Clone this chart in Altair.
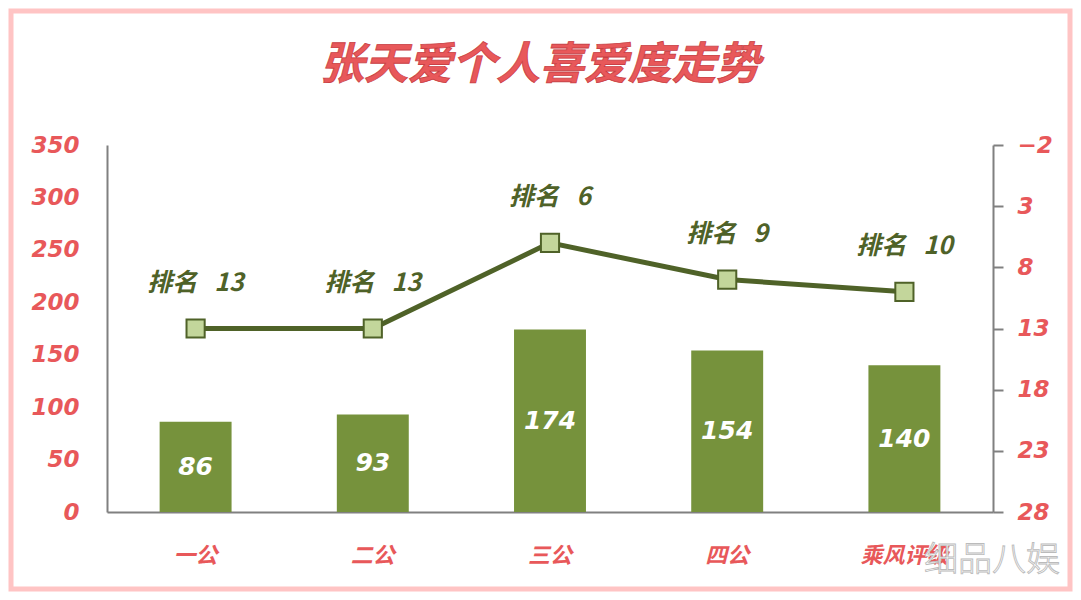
import altair as alt
import pandas as pd

categories = ["一公", "二公", "三公", "四公", "乘风评级"]
heat = [86, 93, 174, 154, 140]
ranks = [13, 13, 6, 9, 10]
left_ticks = [0, 50, 100, 150, 200, 250, 300, 350]
right_ticks = [-2, 3, 8, 13, 18, 23, 28]
title_text = "张天爱个人喜爱度走势"
watermark = "细品八娱"

df = pd.DataFrame({
    "cat": categories,
    "heat": heat,
    "mid": [v / 2 for v in heat],
    "rank": ranks,
    "rlabel": ["排名\u00a0\u00a0\u00a0" + str(r) for r in ranks],
})

RED = "#E8585A"
GRAY = "#808080"
DARK = "#4F6228"
BAR = "#76923C"
LIGHT = "#C3D69B"
FONT = "Noto Sans CJK SC"
NUMFONT = "DejaVu Sans"

W, H = 886, 367

x_enc = alt.X(
    "cat:N", sort=categories,
    scale=alt.Scale(paddingInner=0.594, paddingOuter=0.297),
    axis=alt.Axis(title=None, labelAngle=0, ticks=False, domainColor=GRAY,
                  domainWidth=2, labelColor=RED, labelFont=FONT,
                  labelFontSize=22, labelFontWeight="bold", labelFontStyle="italic",
                  labelPadding=33),
)

y_left = alt.Y(
    "heat:Q",
    scale=alt.Scale(domain=[0, 350], nice=False),
    axis=alt.Axis(values=left_ticks, title=None, grid=False, ticks=False,
                  domainColor=GRAY, domainWidth=2, labelColor=RED, labelFont=NUMFONT,
                  labelFontSize=23, labelFontWeight="bold", labelFontStyle="italic",
                  labelPadding=28),
)

base = alt.Chart(df)

bars = base.mark_bar(color=BAR).encode(x=x_enc, y=y_left)
bar_text = base.mark_text(color="white", font=NUMFONT, fontSize=25, fontWeight="bold",
                          fontStyle="italic", baseline="middle").encode(
    x=alt.X("cat:N", sort=categories),
    y=alt.Y("mid:Q"),
    text="heat:Q",
)
bar_layer = alt.layer(bars, bar_text)

y_right = alt.Y(
    "rank:Q",
    scale=alt.Scale(domain=[-2, 28], reverse=True, nice=False, zero=False),
    axis=alt.Axis(orient="right", values=right_ticks, title=None, grid=False,
                  tickSize=10, tickColor=GRAY, tickWidth=2, domainColor=GRAY,
                  domainWidth=2, labelColor=RED, labelFont=NUMFONT, labelFontSize=23,
                  labelFontWeight="bold", labelFontStyle="italic", labelPadding=14,
                  labelAlign="left"),
)

line = base.mark_line(color=DARK, strokeWidth=5).encode(
    x=alt.X("cat:N", sort=categories), y=y_right)
pts = base.mark_point(shape="square", filled=True, size=330, fill=LIGHT,
                      stroke=DARK, strokeWidth=2, opacity=1).encode(
    x=alt.X("cat:N", sort=categories), y=alt.Y("rank:Q"))
lbl = base.mark_text(dy=-46, color=DARK, font=FONT, fontSize=25, fontWeight="bold",
                     fontStyle="italic", baseline="middle").encode(
    x=alt.X("cat:N", sort=categories), y=alt.Y("rank:Q"), text="rlabel:N")
line_layer = alt.layer(line, pts, lbl)

deco_df = pd.DataFrame({"t": [title_text], "w": [watermark]})
deco = alt.Chart(deco_df)
title = deco.mark_text(color=RED, font=FONT, fontSize=44, fontWeight="bold",
                       fontStyle="italic", stroke="#C94045", strokeWidth=0.8,
                       baseline="middle").encode(
    x=alt.value(433), y=alt.value(-79), text="t:N")
wm = deco.mark_text(fill="white", stroke="#BBBBBB", strokeWidth=0.9, font=FONT,
                    fontSize=34, fontWeight=300, baseline="middle",
                    align="center").encode(
    x=alt.value(885), y=alt.value(416), text="w:N")
border = deco.mark_rect(fill=None, stroke="#FFC4C4", strokeWidth=5).encode(
    x=alt.value(-96), x2=alt.value(963), y=alt.value(-134), y2=alt.value(444))
deco_layer = alt.layer(border, title, wm)

chart = alt.layer(bar_layer, line_layer, deco_layer).resolve_scale(
    y="independent"
).properties(
    width=W, height=H,
    autosize=alt.AutoSizeParams(type="none"),
    padding={"left": 99, "top": 137, "right": 80, "bottom": 80},
    background="white",
).configure_view(stroke=None)

chart.save("out.html", embed_options={"renderer": "svg", "actions": False})
